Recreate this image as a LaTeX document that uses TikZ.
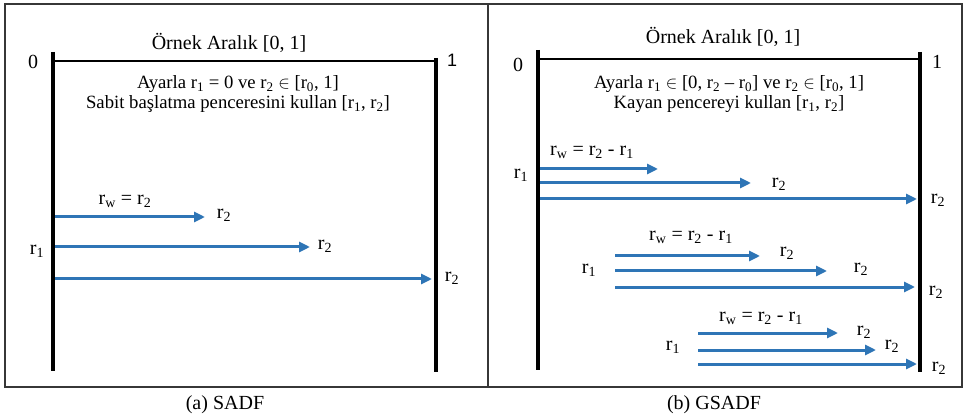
\documentclass[tikz,border=0pt]{standalone}
\usepackage{fontspec}
\setmainfont{Liberation Serif}
\setsansfont{Liberation Sans}
\usepackage{tikz}
\usetikzlibrary{arrows.meta,positioning}
\definecolor{winblue}{RGB}{46,117,182}
\definecolor{framegray}{RGB}{55,55,55}
\newcommand{\rs}[1]{r\textsubscript{#1}}
\tikzset{
  framebox/.style={draw=framegray,line width=1.4pt},
  bar/.style={line width=4.2pt,black},
  axisln/.style={line width=2pt,black},
  warr/.style={-{Triangle[length=11pt,width=10pt]},line width=3pt,draw=winblue},
  lbl/.style={font=\fontsize{20}{19}\selectfont,inner sep=0pt,align=center},
  desc/.style={lbl,font=\fontsize{18.7}{20}\selectfont},
}
\begin{document}
\begin{tikzpicture}[x=1pt,y=-1pt]
  \useasboundingbox (0,0) rectangle (965,419);
  \draw[framebox] (5,4) rectangle (962,387);
  \draw[framebox] (488,4) -- (488,387);
  % (a) SADF
  \node[lbl] (tA) at (229,43) {Örnek Aralık [0, 1]};
  \node[lbl] (zA) at (33,62) {0};
  \node[lbl,font=\sffamily\fontsize{18}{18}\selectfont] (oA) at (452,60) {1};
  \draw[axisln] (53,61) -- (436,61);
  \draw[bar] (53,52) -- (53,371);
  \draw[bar] (436,58) -- (436,372);
  \node[desc] (dA) at (238,94)
    {Ayarla \rs{1} = 0 ve \rs{2} $\in$ [\rs{0}, 1]\\ Sabit başlatma penceresini kullan [\rs{1}, \rs{2}]};
  \node[lbl] (wA) at (125,201) {r\textsubscript{w} = \rs{2}};
  \node[lbl] (sA) at (37,251) {\rs{1}};
  \coordinate (a1s) at (55,217); \coordinate (a1e) at (205,217);
  \coordinate (a2s) at (55,247); \coordinate (a2e) at (310,247);
  \coordinate (a3s) at (55,279); \coordinate (a3e) at (432,279);
  \draw[warr] (a1s) -- (a1e); \draw[warr] (a2s) -- (a2e); \draw[warr] (a3s) -- (a3e);
  \node[lbl] (a1l) at (224,215) {\rs{2}};
  \node[lbl] (a2l) at (325,246) {\rs{2}};
  \node[lbl] (a3l) at (452,278) {\rs{2}};
  \node[lbl] (cA) at (225,405) {(a) SADF};
  % (b) GSADF
  \node[lbl] (tB) at (723,37) {Örnek Aralık [0, 1]};
  \node[lbl] (zB) at (518,65) {0};
  \node[lbl] (oB) at (937,62) {1};
  \draw[axisln] (538,59) -- (920,59);
  \draw[bar] (538,50) -- (538,370);
  \draw[bar] (920,52) -- (920,372);
  \node[desc] (dB) at (729,94)
    {Ayarla \rs{1} $\in$ [0, \rs{2} -- \rs{0}] ve \rs{2} $\in$ [\rs{0}, 1]\\ Kayan pencereyi kullan [\rs{1}, \rs{2}]};
  % first window group
  \node[lbl] (w1) at (592,152) {r\textsubscript{w} = \rs{2} - \rs{1}};
  \node[lbl] (s1) at (521,175) {\rs{1}};
  \coordinate (b1s) at (540,169); \coordinate (b1e) at (658,169);
  \coordinate (b2s) at (540,183); \coordinate (b2e) at (751,183);
  \coordinate (b3s) at (540,199); \coordinate (b3e) at (917,199);
  \draw[warr] (b1s) -- (b1e); \draw[warr] (b2s) -- (b2e); \draw[warr] (b3s) -- (b3e);
  \node[lbl] (b2l) at (779,184) {\rs{2}};
  \node[lbl] (b3l) at (938,200) {\rs{2}};
  % second window group
  \node[lbl] (w2) at (691,237) {r\textsubscript{w} = \rs{2} - \rs{1}};
  \node[lbl] (s2) at (589,270) {\rs{1}};
  \coordinate (c1s) at (615,256); \coordinate (c1e) at (760,256);
  \coordinate (c2s) at (615,271); \coordinate (c2e) at (827,271);
  \coordinate (c3s) at (615,287); \coordinate (c3e) at (915,287);
  \draw[warr] (c1s) -- (c1e); \draw[warr] (c2s) -- (c2e); \draw[warr] (c3s) -- (c3e);
  \node[lbl] (c1l) at (787,253) {\rs{2}};
  \node[lbl] (c2l) at (861,269) {\rs{2}};
  \node[lbl] (c3l) at (936,292) {\rs{2}};
  % third window group
  \node[lbl] (w3) at (761,318) {r\textsubscript{w} = \rs{2} - \rs{1}};
  \node[lbl] (s3) at (673,347) {\rs{1}};
  \coordinate (d1s) at (698,333); \coordinate (d1e) at (838,333);
  \coordinate (d2s) at (698,350); \coordinate (d2e) at (876,350);
  \coordinate (d3s) at (698,364); \coordinate (d3e) at (917,364);
  \draw[warr] (d1s) -- (d1e); \draw[warr] (d2s) -- (d2e); \draw[warr] (d3s) -- (d3e);
  \node[lbl] (d1l) at (864,332) {\rs{2}};
  \node[lbl] (d2l) at (892,346) {\rs{2}};
  \node[lbl] (d3l) at (939,368) {\rs{2}};
  \node[lbl] (cB) at (714,405) {(b) GSADF};
\end{tikzpicture}
\end{document}
